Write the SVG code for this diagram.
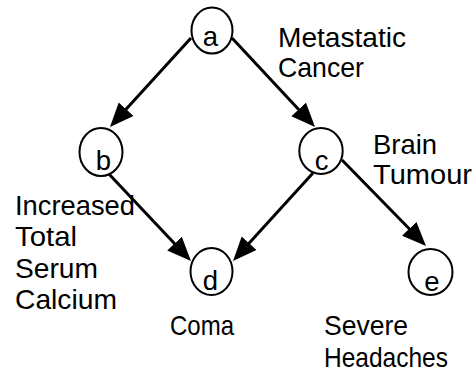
<svg xmlns="http://www.w3.org/2000/svg" width="473" height="374" viewBox="0 0 473 374">
<style>
.node{fill:#fff;stroke:#000;stroke-width:2}
.lbl{font-family:"Liberation Sans",Arial,sans-serif;font-size:27.5px;fill:#000}
.nl{font-family:"Liberation Sans",Arial,sans-serif;font-size:27.5px;fill:#000;text-anchor:middle}
.edge{stroke:#000;stroke-width:3;fill:none;marker-end:url(#arr)}
</style>
<defs>
<marker id="arr" markerUnits="userSpaceOnUse" markerWidth="26" markerHeight="22" refX="14" refY="10" orient="auto">
<path d="M0,0 L24,10 L0,20 z" fill="#000"/>
</marker>
</defs>
<rect width="473" height="374" fill="#fff"/>
<g id="connectors">
<line class="edge" x1="191" y1="38" x2="116.7" y2="119.6"/>
<line class="edge" x1="232" y1="38" x2="308.2" y2="119.7"/>
<line class="edge" x1="108" y1="173" x2="184.1" y2="253.7"/>
<line class="edge" x1="313" y1="173" x2="239.7" y2="253.6"/>
<line class="edge" x1="342" y1="160" x2="419" y2="238.8"/>
</g>
<g id="node-a">
<ellipse class="node" cx="212" cy="30.5" rx="20.5" ry="23"/>
<text class="nl" x="210.5" y="46">a</text>
</g>
<g id="node-b">
<ellipse class="node" cx="101" cy="152" rx="21.5" ry="24"/>
<text class="nl" x="103.5" y="170">b</text>
</g>
<g id="node-c">
<ellipse class="node" cx="321" cy="151" rx="21.7" ry="23"/>
<text class="nl" x="321.5" y="170">c</text>
</g>
<g id="node-d">
<ellipse class="node" cx="211.5" cy="271.5" rx="21" ry="23.5"/>
<text class="nl" x="210.5" y="290">d</text>
</g>
<g id="node-e">
<ellipse class="node" cx="430.5" cy="272" rx="22" ry="23"/>
<text class="nl" x="432" y="291">e</text>
</g>
<g id="labels">
<text class="lbl" x="278" y="47" textLength="128" lengthAdjust="spacingAndGlyphs">Metastatic</text>
<text class="lbl" x="278" y="77" textLength="86" lengthAdjust="spacingAndGlyphs">Cancer</text>
<text class="lbl" x="373" y="154" textLength="64" lengthAdjust="spacingAndGlyphs">Brain</text>
<text class="lbl" x="373" y="184" textLength="99" lengthAdjust="spacingAndGlyphs">Tumour</text>
<text class="lbl" x="15" y="215" textLength="120" lengthAdjust="spacingAndGlyphs">Increased</text>
<text class="lbl" x="15" y="246" textLength="62" lengthAdjust="spacingAndGlyphs">Total</text>
<text class="lbl" x="15" y="278" textLength="83" lengthAdjust="spacingAndGlyphs">Serum</text>
<text class="lbl" x="15" y="309" textLength="102" lengthAdjust="spacingAndGlyphs">Calcium</text>
<text class="lbl" x="170" y="335" textLength="64" lengthAdjust="spacingAndGlyphs">Coma</text>
<text class="lbl" x="324" y="335" textLength="84" lengthAdjust="spacingAndGlyphs">Severe</text>
<text class="lbl" x="324" y="367" textLength="124" lengthAdjust="spacingAndGlyphs">Headaches</text>
</g>
</svg>
